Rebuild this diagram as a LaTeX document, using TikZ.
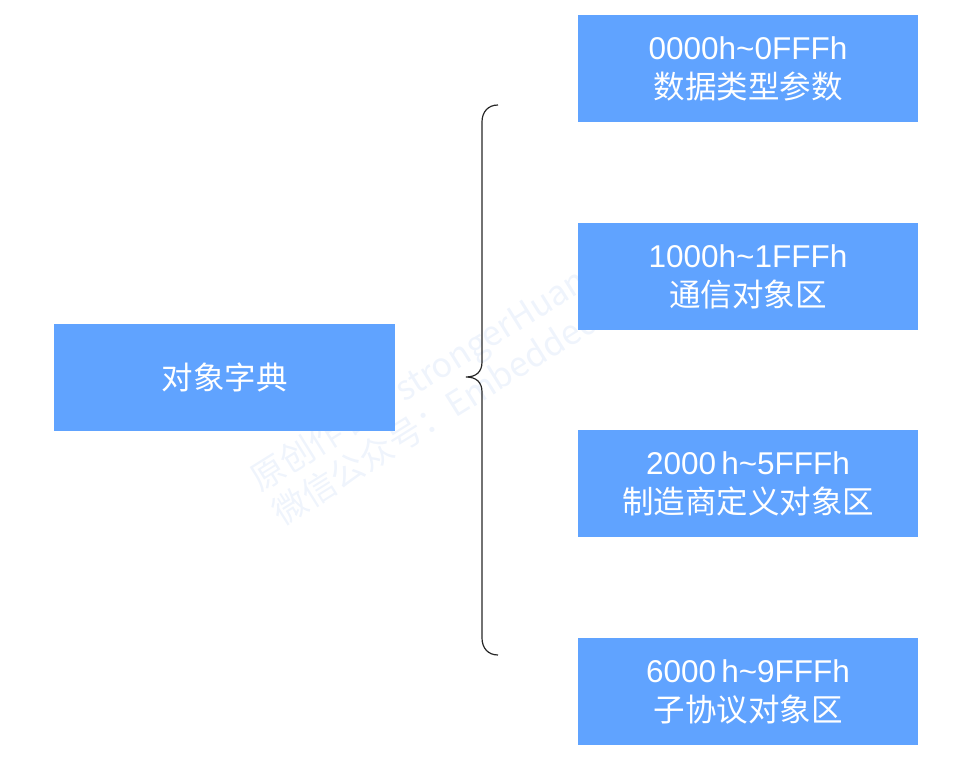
\documentclass[tikz,border=0pt]{standalone}
\usepackage{fontspec}
\setmainfont{Liberation Sans}
\newfontfamily\cjk{Noto Sans CJK SC}
\definecolor{boxblue}{HTML}{60A3FF}
\definecolor{wmark}{HTML}{EFF4FC}
\tikzset{
  blkbox/.style={fill=boxblue, draw=none, minimum width=340pt, minimum height=107pt, inner sep=0pt, text=white, align=center, font=\fontsize{31.5}{40}\selectfont},
  wm/.style={text=wmark, rotate=32, anchor=base west, font=\fontsize{34}{36}\selectfont, inner sep=0pt}
}
\begin{document}
\begin{tikzpicture}[x=1pt,y=1pt]
\useasboundingbox (0,0) rectangle (980,760);
% watermark (behind the boxes)
\node[wm] (w1) at (260,267) {\cjk 原创作者：strongerHuang};
\node[wm] (w2) at (282,233) {\cjk 微信公众号：EmbeddedDevelop};
% boxes
\node[blkbox, minimum width=341pt] (root) at (224.5,382.5) {\cjk 对象字典};
\node[blkbox] (b1) at (748,691.5) {0000h\textasciitilde 0FFFh\\[-1pt]{\cjk 数据类型参数}};
\node[blkbox] (b2) at (748,483.5) {1000h\textasciitilde 1FFFh\\[-1pt]{\cjk 通信对象区}};
\node[blkbox] (b3) at (748,276.5) {2000\,h\textasciitilde 5FFFh\\[-1pt]{\cjk 制造商定义对象区}};
\node[blkbox] (b4) at (748,68.5) {6000\,h\textasciitilde 9FFFh\\[-1pt]{\cjk 子协议对象区}};
% brace
\coordinate (bt) at (498,655);
\coordinate (bb) at (498,105);
\coordinate (tip) at (466,383);
\draw[line width=1.2pt, draw=black!85] (bt) .. controls (488,655) and (482,648) .. (482,638)
  -- (482,398) .. controls (482,388) and (476,383) .. (tip)
  .. controls (476,383) and (482,378) .. (482,368)
  -- (482,122) .. controls (482,112) and (488,105) .. (bb);
\end{tikzpicture}
\end{document}
